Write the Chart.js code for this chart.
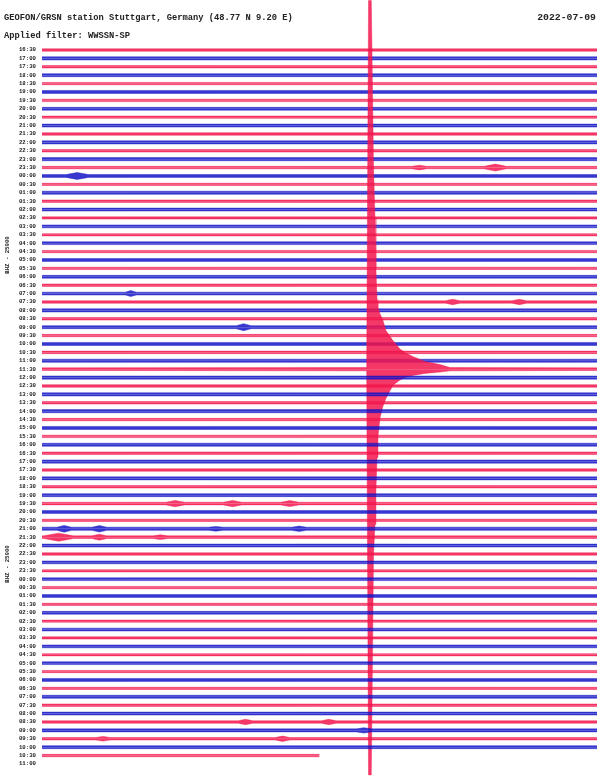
<!DOCTYPE html>
<html>
<head>
<meta charset="utf-8">
<script src="https://cdn.jsdelivr.net/npm/chart.js@4"></script>
<style>
html, body { margin: 0; padding: 0; background: #fff; }
</style>
</head>
<body>
<canvas id="heli" width="600" height="778"></canvas>
<script>

// one row per half hour, starting 2022-07-08 16:30
var timeLabels = [
  "16:30", "17:00", "17:30", "18:00", "18:30", "19:00", "19:30", "20:00", "20:30", "21:00",
  "21:30", "22:00", "22:30", "23:00", "23:30", "00:00", "00:30", "01:00", "01:30", "02:00",
  "02:30", "03:00", "03:30", "04:00", "04:30", "05:00", "05:30", "06:00", "06:30", "07:00",
  "07:30", "08:00", "08:30", "09:00", "09:30", "10:00", "10:30", "11:00", "11:30", "12:00",
  "12:30", "13:00", "13:30", "14:00", "14:30", "15:00", "15:30", "16:00", "16:30", "17:00",
  "17:30", "18:00", "18:30", "19:00", "19:30", "20:00", "20:30", "21:00", "21:30", "22:00",
  "22:30", "23:00", "23:30", "00:00", "00:30", "01:00", "01:30", "02:00", "02:30", "03:00",
  "03:30", "04:00", "04:30", "05:00", "05:30", "06:00", "06:30", "07:00", "07:30", "08:00",
  "08:30", "09:00", "09:30", "10:00", "10:30", "11:00"
];

// background noise half-amplitude of each row (in row spacings)
var baseAmp = [
  0.145, 0.19, 0.145, 0.18, 0.135, 0.18, 0.145, 0.17, 0.135, 0.18,
  0.155, 0.19, 0.155, 0.19, 0.145, 0.17, 0.135, 0.19, 0.145, 0.18,
  0.135, 0.17, 0.135, 0.17, 0.135, 0.17, 0.135, 0.17, 0.145, 0.17,
  0.145, 0.19, 0.155, 0.18, 0.145, 0.18, 0.155, 0.19, 0.155, 0.19,
  0.155, 0.19, 0.155, 0.19, 0.145, 0.18, 0.145, 0.18, 0.145, 0.19,
  0.145, 0.18, 0.145, 0.18, 0.155, 0.17, 0.145, 0.19, 0.16, 0.18,
  0.145, 0.17, 0.135, 0.17, 0.135, 0.17, 0.135, 0.17, 0.135, 0.17,
  0.135, 0.17, 0.135, 0.17, 0.135, 0.17, 0.135, 0.18, 0.145, 0.18,
  0.145, 0.18, 0.145, 0.18, 0.145
];

// small local events: [row, minute, half duration (min), half-amplitude]
var events = [
  [14, 20.4, 0.4, 0.28], [14, 24.5, 0.6, 0.42],
  [15, 1.9, 0.6, 0.42],
  [29, 4.8, 0.3, 0.36],
  [30, 22.2, 0.4, 0.32], [30, 25.8, 0.4, 0.32],
  [33, 10.9, 0.4, 0.42],
  [54, 7.2, 0.5, 0.38], [54, 10.3, 0.5, 0.38], [54, 13.4, 0.5, 0.36],
  [57, 1.2, 0.4, 0.40], [57, 3.1, 0.4, 0.38], [57, 9.4, 0.4, 0.28], [57, 13.9, 0.4, 0.32],
  [58, 0.9, 0.8, 0.48], [58, 3.1, 0.4, 0.36], [58, 6.4, 0.4, 0.28],
  [80, 11.0, 0.4, 0.32], [80, 15.5, 0.4, 0.32],
  [81, 17.4, 0.4, 0.32],
  [82, 3.3, 0.4, 0.28], [82, 13.0, 0.4, 0.32]
];

// the big quake on the 11:30 row
var quakeRow = 38;
var quakeMin  = [17.55, 17.65, 17.80, 17.92, 18.00, 18.05, 18.11, 18.16, 18.27, 18.43, 18.59, 18.97, 19.35, 19.62, 20.05, 20.70, 21.51, 22.05];
var quakeUp   = [0.2, 43.9, 43.9, 24.0, 18.0, 12.0, 8.3, 7.4, 6.6, 5.8, 4.6, 3.4, 2.4, 2.0, 1.5, 0.9, 0.55, 0.2];
var quakeDown = [0.2, 48.3, 48.3, 22.0, 18.5, 14.5, 10.5, 8.0, 5.8, 4.4, 3.5, 1.9, 1.3, 1.0, 0.75, 0.5, 0.35, 0.2];

var lastRowEnd = 15.0; // minutes recorded in the 10:30 row
var rowColors = ["#f2154c", "#1414c8"];
var rowFills = ["rgba(242,21,76,0.85)", "rgba(20,20,200,0.85)"];

function envelope(i) {
  if (i >= baseAmp.length) return [];
  var end = (i == baseAmp.length - 1) ? lastRowEnd : 30;
  var b = baseAmp[i];
  var pts = [[0, b, b], [end, b, b]];
  events.forEach(function (e) {
    if (e[0] != i) return;
    pts.push([e[1] - e[2], b, b]);
    pts.push([e[1], e[3], e[3]]);
    pts.push([e[1] + e[2], b, b]);
  });
  if (i == quakeRow) {
    quakeMin.forEach(function (m, k) { pts.push([m, quakeUp[k], quakeDown[k]]); });
  }
  pts.sort(function (a, c) { return a[0] - c[0]; });
  return pts;
}

var datasets = [];
timeLabels.forEach(function (t, i) {
  var pts = envelope(i);
  var common = {
    borderColor: rowColors[i % 2],
    backgroundColor: rowFills[i % 2],
    borderWidth: 0.4,
    pointRadius: 0,
    tension: 0,
    fill: { value: i },
    order: 200 - i
  };
  datasets.push(Object.assign({ data: pts.map(function (p) { return { x: p[0], y: i - p[1] }; }) }, common));
  datasets.push(Object.assign({ data: pts.map(function (p) { return { x: p[0], y: i + p[2] }; }) }, common));
});

var header = {
  id: "header",
  afterDraw: function (chart) {
    var ctx = chart.ctx;
    ctx.save();
    ctx.fillStyle = "#222";
    ctx.textBaseline = "alphabetic";
    ctx.font = "bold 8.75px 'Liberation Mono'";
    ctx.textAlign = "left";
    ctx.fillText("GEOFON/GRSN station Stuttgart, Germany (48.77 N 9.20 E)", 4, 20);
    ctx.fillText("Applied filter: WWSSN-SP", 4, 38);
    ctx.font = "bold 9.8px 'Liberation Mono'";
    ctx.textAlign = "right";
    ctx.fillText("2022-07-09", 596, 20);
    ctx.font = "bold 5.7px 'Liberation Mono'";
    ctx.textAlign = "center";
    ctx.textBaseline = "middle";
    [255, 564].forEach(function (y) {
      ctx.save();
      ctx.translate(8, y);
      ctx.rotate(-Math.PI / 2);
      ctx.fillText("BHZ - 25000", 0, 0);
      ctx.restore();
    });
    ctx.restore();
  }
};

new Chart("heli", {
  type: "line",
  data: { datasets: datasets },
  options: {
    responsive: false,
    animation: false,
    layout: { padding: { left: 0, right: 3, top: 0, bottom: 0 } },
    plugins: { legend: { display: false }, tooltip: { enabled: false } },
    scales: {
      x: { type: "linear", min: 0, max: 30, display: false },
      y: {
        type: "linear",
        reverse: true,
        min: -5.95,
        max: 86.67,
        afterBuildTicks: function (s) {
          s.ticks = timeLabels.map(function (t, i) { return { value: i }; });
        },
        afterFit: function (s) {
          s.width = 42;
          s.paddingTop = 0;
          s.paddingBottom = 0;
        },
        grid: { display: false, drawTicks: false },
        border: { display: false },
        ticks: {
          autoSkip: false,
          padding: 6,
          color: "#222",
          font: { family: "Liberation Mono", size: 5.7, weight: "bold" },
          callback: function (v) { return timeLabels[v]; }
        }
      }
    }
  },
  plugins: [header]
});
</script>
</body>
</html>
